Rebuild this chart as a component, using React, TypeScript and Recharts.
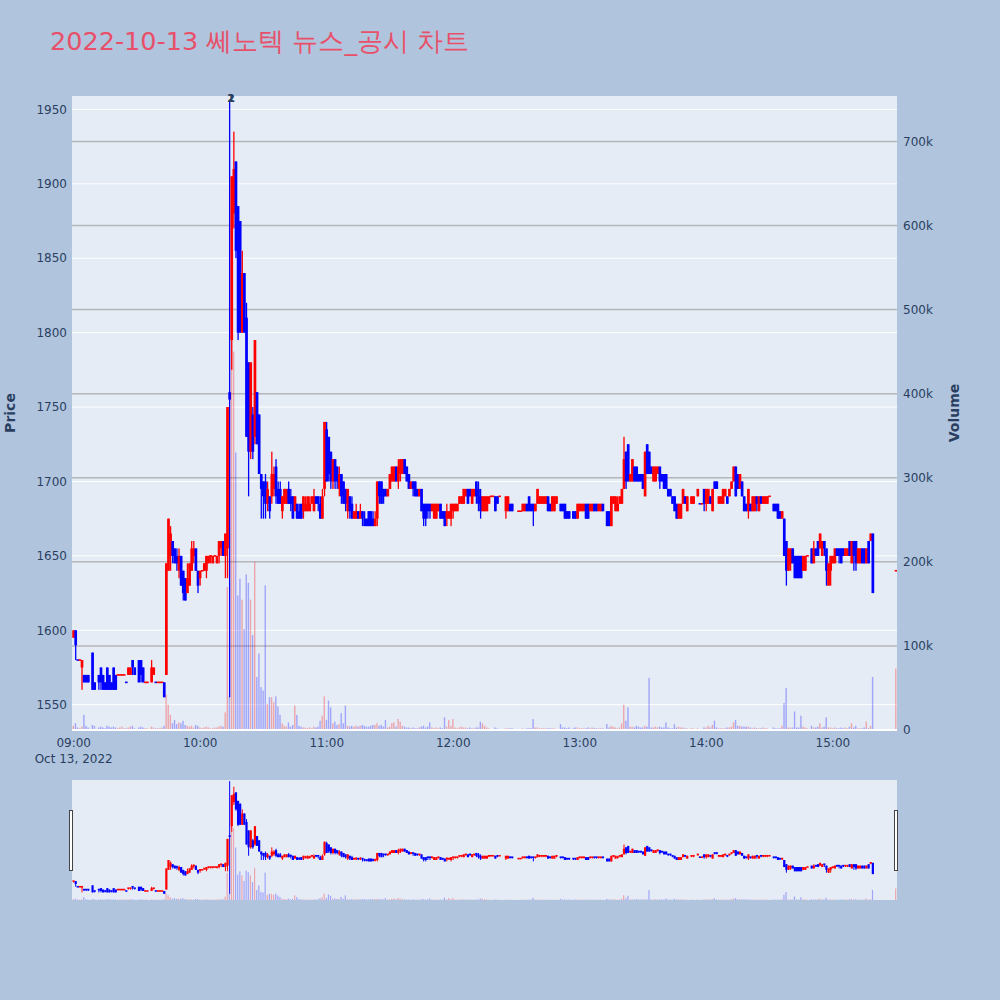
import React from 'react';
import { ComposedChart, Bar, XAxis, YAxis, CartesianGrid, ReferenceDot, ReferenceLine } from 'recharts';

const RED = '#FF0000';
const BLUE = '#0000FF';
const INK = '#2a3f5f';
const FONT = 'Verdana, "DejaVu Sans", sans-serif';
const PLOT_BG = '#E5ECF6';

const titleText = '2022-10-13 쎄노텍 뉴스_공시 차트';
const dateLabel = 'Oct 13, 2022';

// minutes after 09:00
const timeTicks = [0, 60, 120, 180, 240, 300, 360];
const timeLabels = ['09:00', '10:00', '11:00', '12:00', '13:00', '14:00', '15:00'];
const priceTicks = [1550, 1600, 1650, 1700, 1750, 1800, 1850, 1900, 1950];
const volumeTicks = [0, 100000, 200000, 300000, 400000, 500000, 600000, 700000];
const volumeGrid = [100000, 200000, 300000, 400000, 500000, 600000, 700000];
const newsMinutes = [74.6, 74.6];
const newsLabels = ['1', '2'];

// one entry per minute (index = minutes after 09:00), null = no trade
const openPrices: (number | null)[] = [
  1595, 1600, 1580, 1580, 1575, 1570, 1570, 1570, null, 1585,
  1565, null, 1570, 1575, 1570, 1565, 1575, 1570, 1565, 1575,
  1570, 1570, 1570, 1570, 1570, 1565, 1570, 1570, 1580, 1575,
  null, 1580, 1580, 1575, 1565, 1565, null, 1565, 1570, 1565,
  1565, 1565, 1565, 1565, 1570, 1640, 1650, 1660, 1655, 1650,
  1640, 1650, 1640, 1635, 1625, 1630, 1640, 1650, 1655, 1640,
  1635, 1640, 1640, 1640, 1645, 1650, 1645, 1650, 1645, 1650,
  1655, 1660, 1650, 1655, 1760, 1795, 1880, 1915, 1885, 1875,
  1800, 1840, 1810, 1780, 1720, 1745, 1730, 1760, 1745, 1705,
  1700, 1700, 1685, 1690, 1690, 1695, 1710, 1695, 1695, 1680,
  1685, 1685, 1695, 1690, 1690, 1680, 1685, 1680, 1685, 1680,
  1680, 1680, 1680, 1685, 1680, 1690, 1690, 1685, 1675, 1695,
  1735, 1730, 1720, 1700, 1715, 1710, 1695, 1705, 1700, 1695,
  1680, 1690, 1685, 1675, 1675, 1680, 1675, 1680, 1675, 1675,
  1680, 1680, 1675, 1670, 1675, 1700, 1700, 1695, 1695, 1690,
  1695, 1700, 1700, 1710, 1700, 1705, 1705, 1715, 1710, 1705,
  1695, 1700, 1700, 1695, 1690, 1695, 1685, 1685, 1685, 1685,
  1680, 1675, 1675, 1680, 1685, 1680, 1680, 1675, 1675, 1675,
  1680, 1680, 1680, 1685, 1685, 1685, 1690, 1695, 1695, 1685,
  1690, 1700, 1695, 1690, 1680, 1680, 1680, 1685, 1690, 1690,
  1690, 1690, 1690, null, null, 1680, 1680, 1685, 1685, null,
  null, 1680, 1680, 1680, 1680, 1685, 1690, 1685, 1685, 1680,
  1685, 1685, 1685, 1685, 1685, 1690, 1685, 1680, 1680, 1685,
  null, 1685, 1685, 1685, 1680, 1680, null, 1680, 1680, 1675,
  1680, 1680, 1680, 1685, 1685, 1680, 1680, 1685, 1685, 1680,
  1680, 1685, null, 1680, 1680, 1670, 1685, 1680, 1680, 1685,
  1685, 1695, 1720, 1725, 1700, 1700, 1710, 1710, 1705, 1705,
  1705, 1690, 1725, 1720, 1710, 1700, 1700, 1705, 1710, 1705,
  1705, 1705, 1695, 1695, 1690, 1690, 1685, 1675, 1675, 1685,
  1690, 1680, null, 1685, 1685, null, 1690, 1685, 1685, 1695,
  1685, 1685, 1690, 1680, 1700, 1700, 1685, 1685, 1685, 1690,
  1690, 1690, 1695, 1700, 1710, 1705, 1695, 1700, 1690, 1685,
  1680, 1685, 1680, 1680, 1690, 1680, 1690, 1685, 1685, 1685,
  1690, null, 1685, 1685, 1685, 1680, 1675, 1675, 1660, 1640,
  1645, 1655, 1650, 1650, 1650, 1650, 1640, 1640, 1650, null,
  1655, 1645, 1655, 1660, 1655, 1650, 1660, 1655, 1630, 1640,
  1645, 1645, 1655, 1655, 1655, 1655, 1650, 1650, 1660, 1645,
  1660, 1660, 1645, 1645, 1655, 1655, 1645, 1660, 1660, 1665,
  null, null, null, null, null, null, null, null, null, null,
  1640,
];

const closePrices: (number | null)[] = [
  1600, 1590, 1580, 1580, 1580, 1565, 1565, 1565, null, 1560,
  1560, null, 1565, 1565, 1560, 1560, 1560, 1560, 1560, 1560,
  1560, 1570, 1570, 1570, 1570, 1565, 1575, 1575, 1575, 1570,
  null, 1565, 1570, 1565, 1565, 1565, null, 1575, 1575, 1565,
  1565, 1565, 1565, 1555, 1645, 1675, 1665, 1650, 1645, 1645,
  1650, 1630, 1625, 1620, 1635, 1645, 1655, 1655, 1640, 1630,
  1640, 1640, 1645, 1650, 1650, 1650, 1650, 1650, 1650, 1660,
  1660, 1650, 1665, 1750, 1755, 1905, 1910, 1855, 1800, 1800,
  1840, 1800, 1730, 1720, 1780, 1720, 1795, 1725, 1705, 1695,
  1690, 1685, 1695, 1680, 1705, 1705, 1690, 1685, 1685, 1690,
  1695, 1695, 1685, 1685, 1675, 1690, 1675, 1675, 1675, 1690,
  1685, 1690, 1685, 1690, 1690, 1685, 1685, 1675, 1690, 1740,
  1700, 1705, 1700, 1715, 1700, 1700, 1705, 1690, 1685, 1685,
  1695, 1680, 1675, 1680, 1680, 1675, 1680, 1675, 1670, 1670,
  1670, 1670, 1670, 1675, 1700, 1690, 1685, 1690, 1690, 1695,
  1705, 1710, 1710, 1700, 1710, 1715, 1715, 1705, 1700, 1695,
  1700, 1695, 1690, 1690, 1695, 1680, 1675, 1675, 1680, 1680,
  1685, 1685, 1685, 1685, 1675, 1675, 1670, 1680, 1680, 1685,
  1685, 1685, 1685, 1690, 1690, 1695, 1695, 1685, 1690, 1695,
  1695, 1690, 1685, 1680, 1690, 1690, 1690, 1690, 1690, 1690,
  1680, 1685, 1690, null, null, 1690, 1690, 1680, 1680, null,
  null, 1680, 1680, 1685, 1685, 1680, 1680, 1680, 1680, 1685,
  1695, 1690, 1690, 1690, 1690, 1680, 1680, 1690, 1690, 1690,
  null, 1680, 1680, 1675, 1675, 1675, null, 1675, 1675, 1685,
  1685, 1685, 1685, 1675, 1675, 1685, 1685, 1680, 1680, 1685,
  1685, 1680, null, 1670, 1670, 1690, 1690, 1690, 1685, 1690,
  1695, 1715, 1700, 1700, 1705, 1715, 1700, 1700, 1700, 1700,
  1695, 1720, 1705, 1705, 1705, 1710, 1710, 1710, 1700, 1700,
  1695, 1695, 1690, 1690, 1685, 1680, 1675, 1685, 1685, 1695,
  1685, 1690, null, 1690, 1690, null, 1695, 1685, 1685, 1685,
  1695, 1695, 1685, 1695, 1695, 1695, 1690, 1690, 1695, 1695,
  1685, 1695, 1700, 1710, 1690, 1695, 1705, 1690, 1680, 1680,
  1695, 1680, 1690, 1690, 1685, 1690, 1685, 1690, 1690, 1690,
  1690, null, 1680, 1680, 1675, 1675, 1680, 1650, 1640, 1655,
  1655, 1645, 1635, 1635, 1635, 1635, 1650, 1650, 1650, null,
  1645, 1655, 1650, 1650, 1665, 1660, 1655, 1640, 1645, 1650,
  1650, 1655, 1650, 1650, 1645, 1650, 1655, 1655, 1650, 1660,
  1650, 1645, 1655, 1655, 1645, 1645, 1655, 1645, 1665, 1625,
  null, null, null, null, null, null, null, null, null, null,
  1640,
];

const highPrices: (number | null)[] = [
  1600, 1600, 1580, 1580, 1580, 1570, 1570, 1570, null, 1585,
  1565, null, 1570, 1575, 1570, 1565, 1575, 1570, 1565, 1575,
  1570, 1570, 1570, 1570, 1570, 1565, 1575, 1575, 1580, 1575,
  null, 1580, 1580, 1575, 1565, 1565, null, 1580, 1575, 1565,
  1565, 1565, 1565, 1565, 1645, 1675, 1670, 1660, 1655, 1655,
  1655, 1650, 1640, 1635, 1645, 1645, 1660, 1660, 1655, 1640,
  1640, 1640, 1645, 1650, 1650, 1650, 1650, 1650, 1650, 1660,
  1660, 1660, 1665, 1750, 1955, 1905, 1935, 1915, 1885, 1875,
  1855, 1840, 1820, 1780, 1780, 1750, 1795, 1760, 1745, 1705,
  1700, 1705, 1700, 1690, 1720, 1710, 1715, 1700, 1700, 1690,
  1695, 1695, 1700, 1695, 1690, 1690, 1685, 1685, 1685, 1690,
  1690, 1690, 1690, 1690, 1695, 1690, 1690, 1690, 1695, 1740,
  1740, 1730, 1720, 1715, 1715, 1710, 1710, 1705, 1700, 1695,
  1695, 1690, 1690, 1680, 1685, 1680, 1685, 1680, 1680, 1675,
  1680, 1680, 1680, 1680, 1700, 1700, 1700, 1695, 1695, 1695,
  1705, 1710, 1710, 1710, 1715, 1715, 1715, 1715, 1710, 1705,
  1700, 1700, 1700, 1695, 1695, 1695, 1685, 1685, 1685, 1685,
  1685, 1685, 1685, 1685, 1685, 1680, 1680, 1685, 1680, 1685,
  1685, 1685, 1685, 1690, 1690, 1695, 1695, 1695, 1695, 1695,
  1695, 1700, 1700, 1695, 1690, 1690, 1690, 1690, 1690, 1690,
  1690, 1690, 1690, null, null, 1690, 1690, 1685, 1685, null,
  null, 1680, 1680, 1685, 1685, 1685, 1690, 1685, 1685, 1685,
  1695, 1690, 1690, 1690, 1690, 1690, 1685, 1690, 1690, 1690,
  null, 1685, 1685, 1685, 1680, 1680, null, 1680, 1680, 1685,
  1685, 1685, 1685, 1685, 1685, 1685, 1685, 1685, 1685, 1685,
  1685, 1685, null, 1680, 1680, 1690, 1690, 1690, 1690, 1690,
  1695, 1730, 1720, 1725, 1705, 1715, 1710, 1710, 1705, 1705,
  1705, 1720, 1725, 1720, 1710, 1710, 1710, 1710, 1710, 1705,
  1705, 1705, 1695, 1695, 1690, 1690, 1685, 1685, 1685, 1695,
  1690, 1690, null, 1690, 1690, null, 1695, 1685, 1685, 1695,
  1695, 1695, 1690, 1695, 1700, 1700, 1690, 1690, 1695, 1695,
  1690, 1695, 1700, 1710, 1710, 1705, 1705, 1700, 1690, 1685,
  1695, 1685, 1690, 1690, 1690, 1690, 1690, 1690, 1690, 1690,
  1690, null, 1685, 1685, 1685, 1680, 1680, 1675, 1660, 1655,
  1655, 1655, 1650, 1650, 1650, 1650, 1650, 1650, 1650, null,
  1655, 1660, 1655, 1660, 1665, 1660, 1660, 1655, 1645, 1650,
  1650, 1655, 1655, 1655, 1655, 1655, 1655, 1655, 1660, 1660,
  1660, 1660, 1655, 1655, 1655, 1655, 1655, 1660, 1665, 1665,
  null, null, null, null, null, null, null, null, null, null,
  1640,
];

const lowPrices: (number | null)[] = [
  1595, 1580, 1580, 1580, 1560, 1565, 1565, 1565, null, 1560,
  1560, null, 1560, 1560, 1560, 1560, 1560, 1560, 1560, 1560,
  1560, 1570, 1570, 1570, 1570, 1565, 1570, 1570, 1570, 1570,
  null, 1565, 1565, 1565, 1565, 1565, null, 1565, 1570, 1565,
  1565, 1565, 1565, 1555, 1570, 1640, 1640, 1645, 1645, 1640,
  1635, 1630, 1620, 1620, 1625, 1630, 1640, 1645, 1640, 1625,
  1630, 1640, 1640, 1635, 1645, 1645, 1645, 1650, 1645, 1645,
  1650, 1650, 1635, 1635, 1555, 1775, 1870, 1850, 1795, 1800,
  1800, 1800, 1730, 1690, 1715, 1715, 1725, 1725, 1705, 1675,
  1675, 1675, 1680, 1675, 1685, 1690, 1685, 1685, 1685, 1675,
  1685, 1685, 1685, 1680, 1675, 1680, 1675, 1675, 1675, 1675,
  1680, 1680, 1680, 1685, 1680, 1685, 1680, 1675, 1675, 1690,
  1700, 1700, 1695, 1695, 1695, 1695, 1690, 1685, 1685, 1680,
  1675, 1675, 1675, 1675, 1675, 1675, 1675, 1670, 1670, 1670,
  1670, 1670, 1670, 1670, 1670, 1685, 1685, 1685, 1690, 1690,
  1695, 1700, 1700, 1700, 1695, 1700, 1705, 1705, 1700, 1695,
  1695, 1690, 1690, 1690, 1690, 1680, 1670, 1670, 1675, 1675,
  1680, 1675, 1675, 1680, 1675, 1675, 1670, 1670, 1675, 1670,
  1675, 1680, 1680, 1685, 1685, 1685, 1690, 1685, 1690, 1685,
  1690, 1685, 1680, 1675, 1680, 1680, 1680, 1685, 1690, 1690,
  1680, 1685, 1690, null, null, 1675, 1680, 1680, 1680, null,
  null, 1680, 1680, 1680, 1680, 1680, 1680, 1680, 1670, 1680,
  1685, 1685, 1685, 1685, 1685, 1680, 1680, 1680, 1680, 1685,
  null, 1680, 1680, 1675, 1675, 1675, null, 1675, 1675, 1675,
  1680, 1680, 1680, 1675, 1675, 1680, 1680, 1680, 1680, 1680,
  1680, 1680, null, 1670, 1670, 1670, 1685, 1680, 1680, 1685,
  1685, 1695, 1695, 1700, 1700, 1700, 1700, 1700, 1700, 1700,
  1695, 1690, 1705, 1705, 1705, 1700, 1700, 1705, 1695, 1700,
  1695, 1695, 1690, 1690, 1685, 1680, 1675, 1675, 1675, 1685,
  1685, 1680, null, 1685, 1685, null, 1690, 1685, 1685, 1680,
  1680, 1685, 1685, 1680, 1695, 1695, 1685, 1685, 1685, 1690,
  1685, 1690, 1695, 1700, 1690, 1695, 1695, 1690, 1680, 1680,
  1675, 1680, 1680, 1680, 1680, 1680, 1685, 1685, 1685, 1685,
  1690, null, 1680, 1680, 1675, 1675, 1675, 1650, 1630, 1640,
  1640, 1645, 1635, 1635, 1635, 1635, 1640, 1640, 1650, null,
  1645, 1645, 1650, 1650, 1655, 1650, 1650, 1630, 1630, 1630,
  1645, 1645, 1650, 1645, 1645, 1650, 1650, 1650, 1650, 1645,
  1640, 1640, 1645, 1645, 1645, 1645, 1645, 1645, 1660, 1625,
  null, null, null, null, null, null, null, null, null, null,
  1640,
];

// thousands of shares
const volumesK: (number | null)[] = [
  5, 8, 3, 2, 4, 18, 5, 3, null, 6,
  5, null, 3, 4, 3, 2, 5, 4, 3, 4,
  3, 2, 3, 4, 2, 2, 3, 4, 5, 2,
  null, 3, 4, 3, 2, 2, null, 4, 3, 2,
  2, 2, 3, 5, 42, 30, 18, 8, 12, 7,
  9, 8, 11, 6, 5, 4, 5, 3, 6, 5,
  3, 2, 3, 4, 3, 2, 2, 3, 3, 4,
  5, 4, 21, 170, 40, 615, 450, 330, 160, 180,
  155, 120, 185, 175, 155, 113, 200, 63, 91, 51,
  47, 172, 31, 39, 39, 33, 40, 28, 18, 8,
  5, 4, 9, 4, 6, 29, 18, 5, 4, 3,
  3, 2, 3, 2, 4, 3, 4, 11, 17, 40,
  12, 35, 27, 8, 10, 6, 7, 20, 8, 29,
  5, 4, 5, 4, 5, 4, 5, 6, 5, 4,
  4, 5, 6, 6, 8, 5, 6, 4, 12, 3,
  4, 8, 9, 4, 13, 10, 5, 4, 3, 3,
  2, 3, 2, 2, 3, 4, 5, 3, 4, 9,
  3, 2, 3, 2, 3, 2, 15, 4, 12, 5,
  13, 3, 2, 3, 4, 3, 3, 2, 3, 2,
  2, 3, 3, 10, 8, 5, 3, 2, 1, 1,
  3, 2, 1, null, null, 2, 2, 2, 2, null,
  null, 1, 1, 2, 1, 2, 2, 2, 13, 3,
  3, 2, 2, 2, 2, 2, 2, 2, 2, 1,
  null, 7, 3, 3, 2, 3, null, 2, 3, 3,
  2, 2, 2, 2, 3, 2, 3, 2, 2, 2,
  2, 2, null, 7, 3, 5, 4, 3, 2, 3,
  8, 30, 11, 27, 4, 4, 3, 5, 4, 3,
  3, 5, 4, 62, 3, 3, 4, 3, 4, 3,
  3, 9, 3, 2, 2, 7, 3, 4, 3, 3,
  2, 2, null, 2, 2, null, 2, 1, 1, 3,
  3, 5, 3, 6, 11, 3, 2, 2, 2, 2,
  3, 3, 4, 9, 12, 5, 5, 4, 4, 4,
  4, 3, 2, 3, 2, 2, 2, 3, 2, 2,
  1, null, 3, 2, 2, 2, 5, 32, 50, 3,
  3, 3, 22, 3, 3, 17, 4, 3, 2, null,
  5, 3, 3, 4, 8, 3, 4, 15, 3, 3,
  2, 3, 2, 2, 3, 2, 3, 2, 4, 8,
  3, 5, 2, 2, 2, 3, 10, 2, 5, 63,
  null, null, null, null, null, null, null, null, null, null,
  73,
];

const X_DOMAIN: [number, number] = [-0.8, 390.4];
const PRICE_DOMAIN: [number, number] = [1533, 1959];
const VOLUME_DOMAIN: [number, number] = [0, 754000];

interface Candle {
  minute: number;
  open: number;
  close: number;
  high: number;
  low: number;
  range: [number, number];
  volume: number;
  up: boolean;
}

const candles: Candle[] = [];
let prevClose: number | null = null;
openPrices.forEach((o, m) => {
  const c = closePrices[m];
  const h = highPrices[m];
  const l = lowPrices[m];
  if (o == null || c == null || h == null || l == null) return;
  const up = c > o || (c === o && prevClose != null && c >= prevClose);
  candles.push({ minute: m, open: o, close: c, high: h, low: l, range: [l, h], volume: (volumesK[m] ?? 0) * 1000, up });
  prevClose = c;
});

const pad = (n: number) => (n < 10 ? `0${n}` : `${n}`);

const makeCandle = (bodyW: number, wickW: number) => (props: any) => {
  const { x, y, width, height, payload } = props;
  if (x == null || y == null || !payload) return <g />;
  const cx = x + width / 2;
  const top = Math.min(y, y + height);
  const span = Math.abs(height);
  const diff = payload.high - payload.low;
  const ppu = diff > 0 ? span / diff : 0;
  const py = (v: number) => top + (payload.high - v) * ppu;
  const b1 = py(Math.max(payload.open, payload.close));
  const b2 = py(Math.min(payload.open, payload.close));
  const bh = b2 - b1;
  const color = payload.up ? RED : BLUE;
  return (
    <g>
      {span > 0 && <rect x={cx - wickW / 2} y={top} width={wickW} height={span} fill={color} />}
      <rect x={cx - bodyW / 2} y={bh < 1.6 ? b1 - 0.8 : b1} width={bodyW} height={Math.max(bh, 1.6)} fill={color} />
    </g>
  );
};

const makeVolume = (w: number) => (props: any) => {
  const { x, y, width, height, payload } = props;
  if (x == null || y == null || !payload) return <g />;
  const cx = x + width / 2;
  return (
    <rect
      x={cx - w / 2}
      y={Math.min(y, y + height)}
      width={w}
      height={Math.abs(height)}
      fill={payload.up ? 'rgba(255,0,0,0.3)' : 'rgba(0,0,255,0.3)'}
    />
  );
};

const MainCandle = makeCandle(2.7, 1.3);
const MainVolume = makeVolume(1.4);
const MiniCandle = makeCandle(2.2, 1);
const MiniVolume = makeVolume(1.2);

const TimeTick = (props: any) => {
  const { x, y, payload, index } = props;
  const i = timeTicks.indexOf(payload.value);
  return (
    <g>
      <text x={x} y={y + 9} textAnchor="middle" fontSize={12} fill={INK} fontFamily={FONT}>
        {i >= 0 ? timeLabels[i] : `${pad(9 + Math.floor(payload.value / 60))}:00`}
      </text>
      {index === 0 && (
        <text x={x} y={y + 25} textAnchor="middle" fontSize={12} fill={INK} fontFamily={FONT}>
          {dateLabel}
        </text>
      )}
    </g>
  );
};

const NewsMark = (label: string) => (props: any) => (
  <text x={props.cx} y={props.cy + 4} textAnchor="middle" fontSize={11} fontWeight="bold" fill={INK} fontFamily={FONT}>
    {label}
  </text>
);

export default function App() {
  const tickStyle = { fill: INK, fontSize: 12, fontFamily: FONT };
  return (
    <div style={{ position: 'absolute', left: 0, top: 0, width: 1000, height: 1000, background: '#B0C4DE', fontFamily: FONT, overflow: 'hidden' }}>
      <div style={{ position: 'absolute', left: 0, top: 0 }}>
        <ComposedChart width={1000} height={770} data={candles} margin={{ top: 96, right: 43, bottom: 10, left: 12 }}>
          <CartesianGrid yAxisId="price" vertical={false} horizontalValues={priceTicks} stroke="#FFFFFF" strokeWidth={1} fill={PLOT_BG} fillOpacity={1} />
          <CartesianGrid yAxisId="vol" vertical={false} horizontalValues={volumeGrid} stroke="#B4B6BA" strokeWidth={1.5} />
          <ReferenceLine yAxisId="vol" y={0} stroke="#FFFFFF" strokeWidth={2} />
          <XAxis
            xAxisId={0}
            dataKey="minute"
            type="number"
            domain={X_DOMAIN}
            ticks={timeTicks}
            allowDataOverflow
            axisLine={false}
            tickLine={false}
            height={30}
            tick={<TimeTick />}
          />
          <XAxis xAxisId="tv" dataKey="minute" type="number" domain={X_DOMAIN} allowDataOverflow hide />
          <YAxis
            yAxisId="price"
            domain={PRICE_DOMAIN}
            ticks={priceTicks}
            allowDataOverflow
            width={60}
            axisLine={false}
            tickLine={false}
            tickSize={5}
            tickMargin={0}
            tick={tickStyle}
          />
          <YAxis
            yAxisId="vol"
            orientation="right"
            domain={VOLUME_DOMAIN}
            ticks={volumeTicks}
            allowDataOverflow
            width={60}
            axisLine={false}
            tickLine={false}
            tickSize={6}
            tickMargin={0}
            tick={tickStyle}
            tickFormatter={(v: number) => (v === 0 ? '0' : `${v / 1000}k`)}
          />
          <Bar xAxisId={0} yAxisId="price" dataKey="range" barSize={3} shape={MainCandle} isAnimationActive={false} />
          <Bar xAxisId="tv" yAxisId="vol" dataKey="volume" barSize={1.4} shape={MainVolume} isAnimationActive={false} />
          {newsMinutes.map((m, i) => (
            <ReferenceDot
              key={`news-${i}`}
              xAxisId={0}
              yAxisId="price"
              x={m}
              y={PRICE_DOMAIN[1] - 1.5}
              r={0}
              ifOverflow="visible"
              shape={NewsMark(newsLabels[i])}
            />
          ))}
        </ComposedChart>
      </div>

      <div style={{ position: 'absolute', left: 72, top: 780, width: 825, height: 120, background: PLOT_BG }} />
      <div style={{ position: 'absolute', left: 0, top: 780 }}>
        <ComposedChart width={1000} height={120} data={candles} margin={{ top: 0, right: 103, bottom: 0, left: 72 }}>
          <XAxis xAxisId={0} dataKey="minute" type="number" domain={X_DOMAIN} allowDataOverflow hide />
          <XAxis xAxisId="tv" dataKey="minute" type="number" domain={X_DOMAIN} allowDataOverflow hide />
          <YAxis yAxisId="price" domain={PRICE_DOMAIN} allowDataOverflow hide />
          <YAxis yAxisId="vol" domain={VOLUME_DOMAIN} allowDataOverflow hide />
          <Bar xAxisId={0} yAxisId="price" dataKey="range" barSize={2.5} shape={MiniCandle} isAnimationActive={false} />
          <Bar xAxisId="tv" yAxisId="vol" dataKey="volume" barSize={1.2} shape={MiniVolume} isAnimationActive={false} />
        </ComposedChart>
      </div>

      <svg width={1000} height={1000} style={{ position: 'absolute', left: 0, top: 0, pointerEvents: 'none' }}>
        <text x={50} y={50} fontSize={25.5} fill="#E8506A" fontFamily={FONT}>{titleText}</text>
        <text transform="translate(15,413) rotate(-90)" textAnchor="middle" fontSize={14} fontWeight="bold" fill={INK} fontFamily={FONT}>Price</text>
        <text transform="translate(959,413) rotate(-90)" textAnchor="middle" fontSize={14} fontWeight="bold" fill={INK} fontFamily={FONT}>Volume</text>
        <rect x={69.5} y={810.5} width={3} height={60} fill="#FFFFFF" stroke="#444444" strokeWidth={1} />
        <rect x={894.5} y={810.5} width={3} height={60} fill="#FFFFFF" stroke="#444444" strokeWidth={1} />
      </svg>
    </div>
  );
}
